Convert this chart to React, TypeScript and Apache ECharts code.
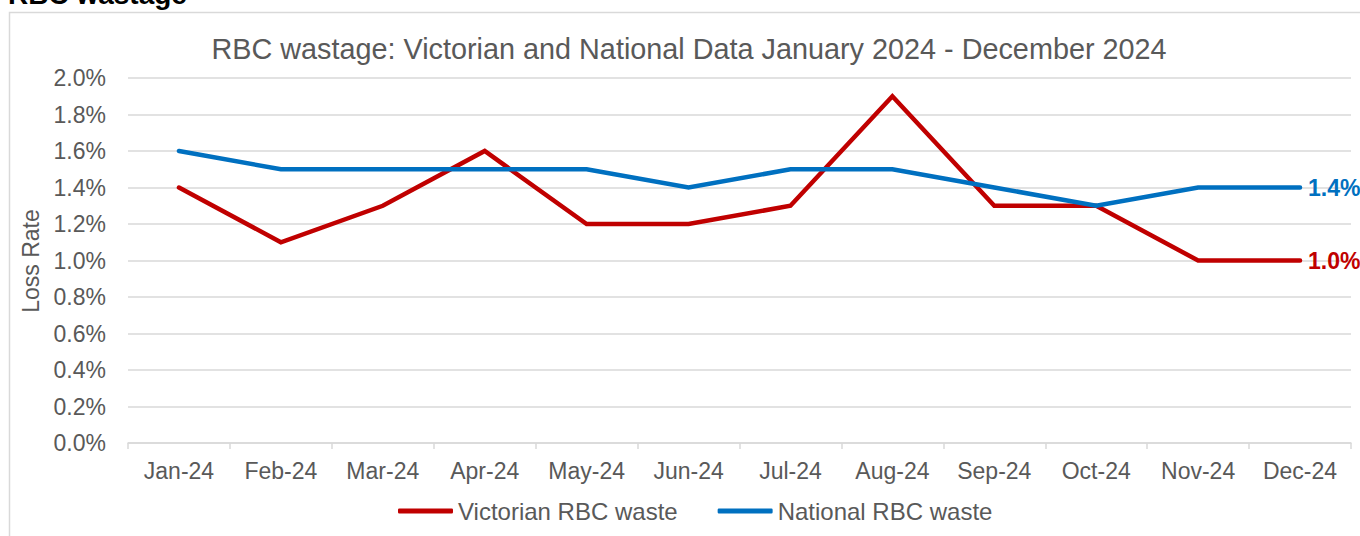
import React, { useEffect, useRef } from "react";
import * as echarts from "echarts";

const months = ["Jan-24", "Feb-24", "Mar-24", "Apr-24", "May-24", "Jun-24", "Jul-24", "Aug-24", "Sep-24", "Oct-24", "Nov-24", "Dec-24"];
const victorian = [1.4, 1.1, 1.3, 1.6, 1.2, 1.2, 1.3, 1.9, 1.3, 1.3, 1.0, 1.0];
const national = [1.6, 1.5, 1.5, 1.5, 1.5, 1.4, 1.5, 1.5, 1.4, 1.3, 1.4, 1.4];
const seriesNames = ["Victorian RBC waste", "National RBC waste"];
const chartTitle = "RBC wastage: Victorian and National Data January 2024 - December 2024";
const pageHeading = "RBC wastage";
const yAxisTitle = "Loss Rate";

const FONT = "'Liberation Sans', Arial, sans-serif";
const GREY = "#595959";
const RED = "#C00000";
const BLUE = "#0070C0";

export default function App() {
  const ref = useRef<HTMLDivElement>(null);
  useEffect(() => {
    if (!ref.current) return;
    const chart = echarts.init(ref.current, undefined, { renderer: "svg" });
    const mkSeries = (name: string, data: number[], color: string) => ({
      name,
      type: "line",
      data,
      showSymbol: false,
      symbol: "none",
      color,
      lineStyle: { color, width: 4.5, cap: "round", join: "miter" },
      endLabel: {
        show: true,
        formatter: (p: any) => Number(p.value).toFixed(1) + "%",
        color,
        fontWeight: "bold",
        fontSize: 23,
        fontFamily: FONT,
        distance: 8,
      },
      emphasis: { disabled: true },
    });
    chart.setOption({
      animation: false,
      textStyle: { fontFamily: FONT },
      grid: { left: 128, right: 9, top: 78, bottom: 93 },
      graphic: [
        {
          type: "rect",
          shape: { x: 9.5, y: 12.5, width: 1400, height: 600 },
          style: { fill: "none", stroke: "#d9d9d9", lineWidth: 1.5 },
          silent: true,
        },
        {
          type: "text",
          x: 8,
          y: -6,
          style: { text: pageHeading, font: `bold 28px ${FONT}`, fill: "#000", align: "left", verticalAlign: "middle" },
        },
        {
          type: "text",
          x: 689,
          y: 49,
          style: { text: chartTitle, font: `28.8px ${FONT}`, fill: GREY, align: "center", verticalAlign: "middle" },
        },
        {
          type: "text",
          x: 31,
          y: 261,
          rotation: Math.PI / 2,
          style: { text: yAxisTitle, font: `23px ${FONT}`, fill: GREY, align: "center", verticalAlign: "middle" },
        },
      ],
      legend: {
        data: seriesNames,
        left: 393,
        top: 494,
        icon: "roundRect",
        itemWidth: 55,
        itemHeight: 5,
        itemGap: 40,
        textStyle: { color: GREY, fontSize: 24, fontFamily: FONT },
      },
      xAxis: {
        type: "category",
        data: months,
        boundaryGap: true,
        axisLine: { lineStyle: { color: "#d9d9d9", width: 1.5 } },
        axisTick: { show: true, length: 6, lineStyle: { color: "#d9d9d9", width: 1.5 } },
        axisLabel: { color: GREY, fontSize: 23, fontFamily: FONT, margin: 16 },
      },
      yAxis: {
        type: "value",
        min: 0,
        max: 2,
        interval: 0.2,
        axisLine: { show: false },
        axisTick: { show: false },
        splitLine: { lineStyle: { color: "#d9d9d9", width: 1.5 } },
        axisLabel: {
          color: GREY,
          fontSize: 23,
          fontFamily: FONT,
          margin: 22,
          formatter: (v: number) => v.toFixed(1) + "%",
        },
      },
      series: [mkSeries(seriesNames[0], victorian, RED), mkSeries(seriesNames[1], national, BLUE)],
    });
    return () => chart.dispose();
  }, []);
  return <div ref={ref} style={{ position: "absolute", left: 0, top: 0, width: 1360, height: 536 }} />;
}
